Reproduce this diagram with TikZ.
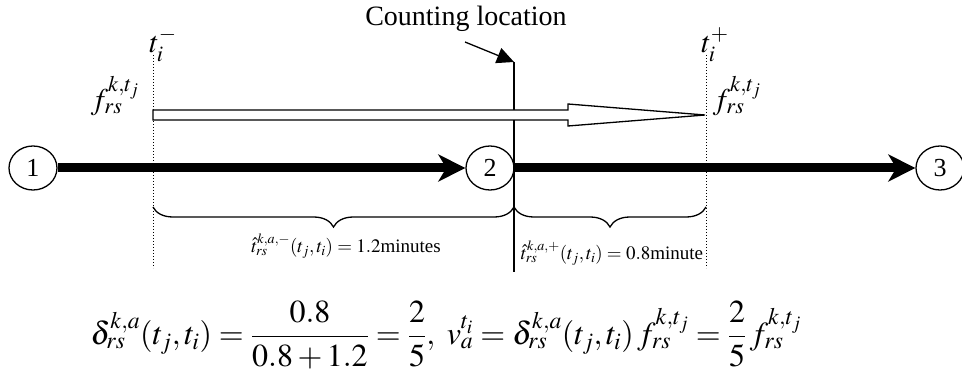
\documentclass[tikz,border=0pt]{standalone}
\usepackage{amsmath}
\usepackage{mathptmx}
\usepackage{fontspec}
\setmainfont{Liberation Serif}
\usepackage{tikz}
\usetikzlibrary{shapes, arrows.meta, positioning, calc, decorations.pathreplacing}

\tikzset{
  linknode/.style={draw, ellipse, line width=1.3pt, minimum width=48pt, minimum height=44pt, inner sep=0pt, font=\fontsize{26}{28}\selectfont},
  thicklink/.style={line width=9pt, -{Stealth[length=27pt, width=27pt, inset=8pt]}},
  timeline/.style={dotted, line width=1pt},
  bigmath/.style={font=\fontsize{30}{32}\selectfont, inner sep=0pt},
  bracelbl/.style={font=\fontsize{19}{21}\selectfont, inner sep=0pt},
}

\begin{document}
\begin{tikzpicture}[x=1pt, y=-1pt]
  \useasboundingbox (0,0) rectangle (962,374);

  \node[linknode] (n1) at (33,168) {1};
  \node[linknode] (n2) at (490,168) {2};
  \node[linknode] (n3) at (940,168) {3};
  \draw[thicklink] (n1) -- (n2);
  \draw[thicklink] (n2) -- (n3);

  \coordinate (lefttop) at (153,55);
  \coordinate (leftbot) at (153,268);
  \coordinate (righttop) at (706,55);
  \coordinate (rightbot) at (706,268);
  \draw[timeline] (lefttop) -- (leftbot);
  \draw[timeline] (righttop) -- (rightbot);
  \node[bigmath] (tminus) at (163,45) {$t_i^{-}$};
  \node[bigmath] (tplus) at (715,45) {$t_i^{+}$};

  \coordinate (counttop) at (514,62);
  \coordinate (countbot) at (514,272);
  \draw[line width=1.3pt] (counttop) -- (countbot);
  \node[font=\fontsize{28}{30}\selectfont, inner sep=0pt] (countlbl) at (466,19) {Counting location};
  \draw[line width=1.3pt, -{Triangle[length=17pt, width=16pt]}] (465,42) -- (counttop);

  \draw[line width=1.3pt, fill=white] (153,110) -- (568,110) -- (568,104) -- (705,115) -- (568,126) -- (568,120) -- (153,120) -- cycle;
  \node[bigmath] (fleft) at (115,96) {$f_{rs}^{k,t_j}$};
  \node[bigmath] (fright) at (737,96) {$f_{rs}^{k,t_j}$};

  \draw[line width=1.3pt, decorate, decoration={brace, mirror, amplitude=20pt}] (153,207) -- (514,207);
  \draw[line width=1.3pt, decorate, decoration={brace, mirror, amplitude=20pt}] (514,207) -- (706,207);
  \node[bracelbl] (lbrace) at (346,246) {$\hat{t}_{rs}^{k,a,-}(t_j,t_i)=1.2$minutes};
  \node[bracelbl] (rbrace) at (612,253) {$\hat{t}_{rs}^{k,a,+}(t_j,t_i)=0.8$minute};

  \node[font=\fontsize{32}{35}\selectfont, inner sep=0pt] (eqn) at (446,335) {$\delta_{rs}^{k,a}(t_j,t_i)=\dfrac{0.8}{0.8+1.2}=\dfrac{2}{5},\ v_a^{t_i}=\delta_{rs}^{k,a}(t_j,t_i)\,f_{rs}^{k,t_j}=\dfrac{2}{5}\,f_{rs}^{k,t_j}$};
\end{tikzpicture}
\end{document}
